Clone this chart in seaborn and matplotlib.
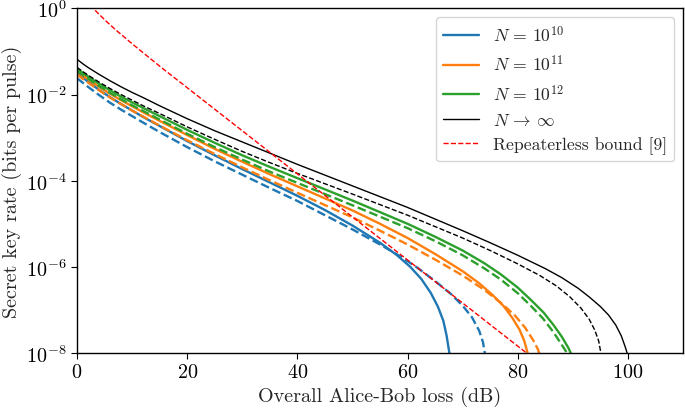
import matplotlib
matplotlib.use("Agg")
import matplotlib.pyplot as plt
from matplotlib.ticker import NullLocator
import numpy as np
import seaborn as sns

# values, y given as log10(rate)
front_loss = [0, 1, 2, 4, 6, 8, 10, 12, 15, 20, 25, 30, 35, 40]

inf_loss = front_loss + [50, 60, 70, 75, 80, 85, 88, 91, 93, 95, 96.5, 97.8, 98.8, 99.5,
                         100.1, 100.3]
inf_log = [-1.18, -1.28, -1.37, -1.53, -1.68, -1.82, -1.95, -2.07, -2.26, -2.56, -2.84, -3.1,
           -3.36, -3.62, -4.12, -4.62, -5.16, -5.44, -5.73, -6.04, -6.25, -6.5, -6.7, -6.92,
           -7.12, -7.35, -7.6, -7.85, -8.1, -8.3]
inf_d_loss = front_loss + [50, 60, 70, 75, 80, 84, 87, 89.5, 91.5, 93, 94, 94.7, 95.1, 95.25]
inf_d_log = [-1.37, -1.46, -1.55, -1.71, -1.86, -2.0, -2.13, -2.26, -2.44, -2.75, -3.04, -3.32,
             -3.58, -3.83, -4.31, -4.8, -5.33, -5.62, -5.93, -6.2, -6.44, -6.7, -6.96, -7.22,
             -7.47, -7.72, -8.0, -8.3]

n12_loss = front_loss + [50, 60, 65, 70, 74, 77, 80, 82.5, 84.7, 86.5, 88.0, 89.2, 89.8, 90.0]
n12_log = [-1.40, -1.49, -1.58, -1.75, -1.9, -2.05, -2.18, -2.31, -2.5, -2.82, -3.12, -3.41,
           -3.68, -3.94, -4.46, -5.0, -5.3, -5.62, -5.92, -6.18, -6.48, -6.78, -7.06, -7.35,
           -7.62, -7.88, -8.05, -8.35]
n12_d_loss = front_loss + [50, 60, 65, 70, 74, 77, 80, 82.5, 84.6, 86.4, 87.8, 88.8, 89.3,
                           89.5]
n12_d_log = [-1.45, -1.54, -1.63, -1.8, -1.96, -2.11, -2.25, -2.38, -2.58, -2.91, -3.22, -3.51,
             -3.79, -4.05, -4.57, -5.1, -5.4, -5.73, -6.04, -6.3, -6.61, -6.92, -7.2, -7.5,
             -7.77, -7.97, -8.1, -8.35]

n11_loss = front_loss + [50, 55, 60, 65, 70, 73, 75.5, 77.5, 79, 80.3, 81.2, 81.8, 82.0]
n11_log = [-1.45, -1.55, -1.64, -1.82, -1.98, -2.13, -2.27, -2.41, -2.61, -2.94, -3.26, -3.56,
           -3.85, -4.13, -4.69, -5.0, -5.33, -5.7, -6.1, -6.38, -6.66, -6.92, -7.18, -7.45,
           -7.72, -8.0, -8.35]
n11_d_loss = front_loss + [50, 55, 60, 65, 70, 74, 77, 79.5, 81.4, 82.8, 83.7, 84.1, 84.3]
n11_d_log = [-1.53, -1.63, -1.72, -1.9, -2.07, -2.22, -2.37, -2.51, -2.72, -3.06, -3.38, -3.69,
             -3.99, -4.28, -4.85, -5.16, -5.48, -5.83, -6.2, -6.54, -6.84, -7.13, -7.42, -7.7,
             -7.92, -8.1, -8.35]

n10_loss = front_loss + [45, 50, 55, 58, 60.5, 62.5, 64.2, 65.5, 66.5, 67.1, 67.6, 67.8]
n10_log = [-1.5, -1.6, -1.7, -1.89, -2.06, -2.22, -2.37, -2.52, -2.73, -3.08, -3.41, -3.73,
           -4.04, -4.35, -4.68, -5.04, -5.44, -5.72, -6.0, -6.28, -6.6, -6.92, -7.25, -7.6,
           -8.0, -8.35]
n10_d_loss = front_loss + [45, 50, 55, 59, 62, 65, 67.8, 70, 71.7, 73, 73.7, 74.1, 74.3]
n10_d_log = [-1.62, -1.72, -1.82, -2.01, -2.19, -2.35, -2.5, -2.65, -2.87, -3.22, -3.55, -3.86,
             -4.17, -4.47, -4.8, -5.13, -5.48, -5.78, -6.04, -6.33, -6.62, -6.9, -7.17, -7.48,
             -7.75, -8.05, -8.35]

bound_loss = [2.6, 3, 3.5, 4, 5, 6, 7.5, 8, 10, 15, 20, 30, 40, 50, 60, 70, 82]
bound_log = [0.1, 0.0, -0.07, -0.135, -0.26, -0.38, -0.55, -0.6, -0.82, -1.34, -1.84, -2.84,
             -3.84, -4.84, -5.84, -6.84, -8.04]

finite = [
    (r"$N\,=\,10^{10}$", "#1f77b4", n10_loss, n10_log, n10_d_loss, n10_d_log),
    (r"$N\,=\,10^{11}$", "#ff7f0e", n11_loss, n11_log, n11_d_loss, n11_d_log),
    (r"$N\,=\,10^{12}$", "#2ca02c", n12_loss, n12_log, n12_d_loss, n12_d_log),
]

sns.set_style("ticks")
plt.rcParams.update({
    "font.family": "serif",
    "font.serif": ["cmr10"],
    "mathtext.fontset": "cm",
    "axes.formatter.use_mathtext": True,
    "axes.edgecolor": "black",
    "xtick.color": "black",
    "ytick.color": "black",
})

fig, ax = plt.subplots(figsize=(6.85, 4.1), dpi=100)
fig.subplots_adjust(left=0.1124, right=0.997, bottom=0.1366, top=0.977)

for label, color, xs, ys, xd, yd in finite:
    sns.lineplot(x=xs, y=10 ** np.array(ys), ax=ax, color=color, lw=1.7, label=label)
    sns.lineplot(x=xd, y=10 ** np.array(yd), ax=ax, color=color, lw=1.7, linestyle="--")

sns.lineplot(x=inf_loss, y=10 ** np.array(inf_log), ax=ax, color="black", lw=1.0,
             label=r"$N\,\to\,\infty$")
sns.lineplot(x=inf_d_loss, y=10 ** np.array(inf_d_log), ax=ax, color="black", lw=1.0,
             linestyle="--")
sns.lineplot(x=bound_loss, y=10 ** np.array(bound_log), ax=ax, color="red", lw=1.0,
             linestyle="--", label="Repeaterless bound [9]")

ax.set_yscale("log")
ax.set_xlim(0, 110)
ax.set_ylim(1e-8, 1)
ax.set_xticks([0, 20, 40, 60, 80, 100])
ax.set_yticks([1e-8, 1e-6, 1e-4, 1e-2, 1])
ax.yaxis.set_minor_locator(NullLocator())
ax.tick_params(labelsize=14.5, length=4, width=0.8)
ax.set_xlabel("Overall Alice-Bob loss (dB)", fontsize=14.5, labelpad=3)
ax.set_ylabel("Secret key rate (bits per pulse)", fontsize=14.5, labelpad=3)
for s in ax.spines.values():
    s.set_visible(True)
    s.set_linewidth(1.0)

ax.legend(loc="upper right", fontsize=12.7, frameon=True)

fig.savefig("out.png", dpi=100)
